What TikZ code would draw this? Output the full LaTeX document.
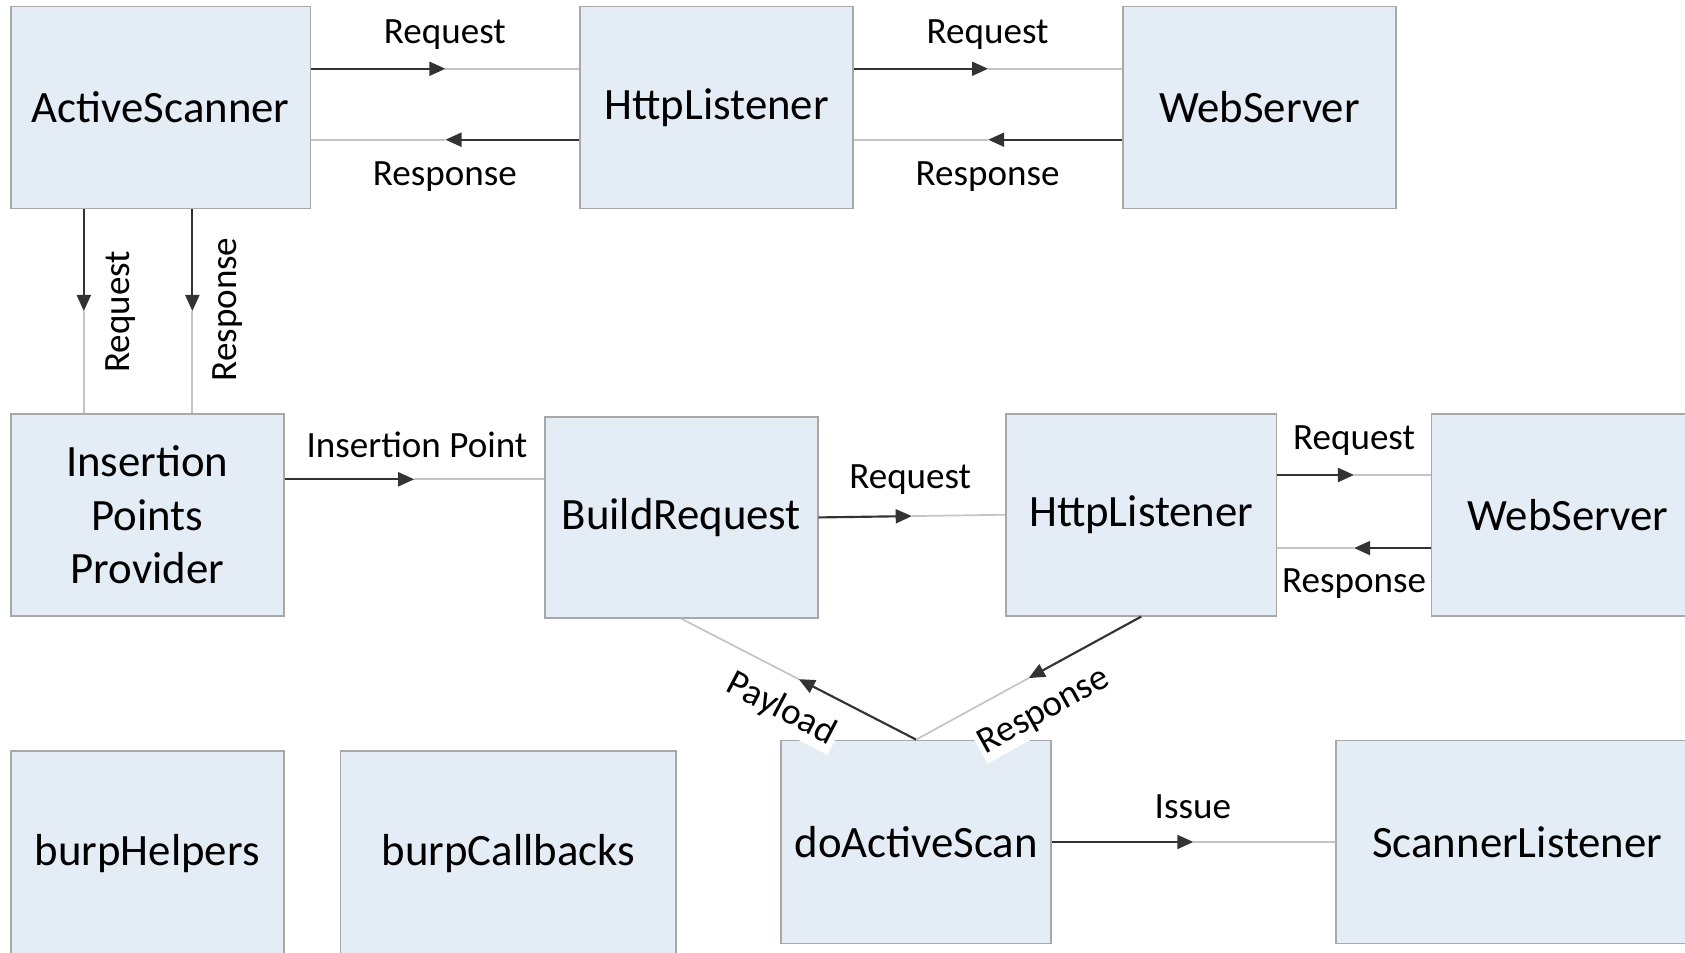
\documentclass[tikz,border=0pt]{standalone}
\usepackage{fontspec}
\setmainfont{Carlito}
\usetikzlibrary{arrows.meta}
\definecolor{boxfill}{HTML}{E4ECF6}
\definecolor{boxline}{HTML}{A8A8A8}
\definecolor{darkln}{HTML}{333333}
\definecolor{liteln}{HTML}{C4C4C4}
\tikzset{
  blk/.style={draw=boxline, fill=boxfill, line width=1.5pt, inner sep=0pt,
    font=\fontsize{41.7}{50}\selectfont, align=center},
  lbl/.style={font=\fontsize{34.5}{40}\selectfont, inner sep=1pt},
  darkpart/.style={draw=darkln, line width=2pt, -{Triangle[length=15pt,width=13pt]}},
  litepart/.style={draw=liteln, line width=1.6pt},
}
\newcommand\conn[2]{%
  \path #1 -- coordinate[pos=0.5] (cmid) #2;
  \draw[litepart] (cmid) -- #2;
  \draw[darkpart] #1 -- (cmid);
}
\begin{document}
\begin{tikzpicture}[x=1pt,y=-1pt]
\useasboundingbox (0,0) rectangle (1568,886);
% boxes
\node[blk, minimum width=279pt, minimum height=188pt] (as) at (149.5,100) {ActiveScanner};
\node[blk, minimum width=254pt, minimum height=188pt] (hl1) at (667,100) {HttpListener};
\node[blk, minimum width=254pt, minimum height=188pt] (ws1) at (1172,100) {WebServer};
\node[blk, minimum width=254pt, minimum height=188pt] (ipp) at (137,479) {Insertion\\Points\\Provider};
\node[blk, minimum width=254pt, minimum height=187pt] (br) at (634,481.5) {BuildRequest};
\node[blk, minimum width=252pt, minimum height=188pt] (hl2) at (1062,479) {HttpListener};
\node[blk, minimum width=254pt, minimum height=188pt] (ws2) at (1459,479) {WebServer};
\node[blk, minimum width=254pt, minimum height=190pt] (bh) at (137,794) {burpHelpers};
\node[blk, minimum width=312pt, minimum height=190pt] (bc) at (473,794) {burpCallbacks};
\node[blk, minimum width=251pt, minimum height=189pt] (das) at (852.5,783.5) {doActiveScan};
\node[blk, minimum width=338pt, minimum height=189pt] (sl) at (1412,783.5) {ScannerListener};
% connectors
\conn{([yshift=36pt]as.east)}{([yshift=36pt]hl1.west)}
\conn{([yshift=-30pt]hl1.west)}{([yshift=-30pt]as.east)}
\conn{([yshift=36pt]hl1.east)}{([yshift=36pt]ws1.west)}
\conn{([yshift=-30pt]ws1.west)}{([yshift=-30pt]hl1.east)}
\conn{([xshift=-71.5pt]as.south)}{([xshift=-71.5pt]as.south |- ipp.north)}
\conn{([xshift=29.5pt]as.south)}{([xshift=29.5pt]as.south |- ipp.north)}
\conn{([yshift=33pt]ipp.east)}{([yshift=33pt]ipp.east -| br.west)}
\conn{(br.east)}{(hl2.west)}
\conn{([yshift=37pt]hl2.east)}{([yshift=37pt]hl2.east -| ws2.west)}
\conn{([yshift=-31pt]ws2.west)}{([yshift=-31pt]ws2.west -| hl2.east)}
\conn{(das.north)}{(br.south)}
\conn{(hl2.south)}{(das.north)}
\conn{(das.east)}{(sl.west)}
% labels
\node[lbl] (l1) at (414,32) {Request};
\node[lbl] (l2) at (414,164) {Response};
\node[lbl] (l3) at (919,32) {Request};
\node[lbl] (l4) at (919,164) {Response};
\node[lbl, rotate=90] (l5) at (112,290) {Request};
\node[lbl, rotate=90] (l6) at (212,288) {Response};
\node[lbl] (l7) at (388,414) {Insertion Point};
\node[lbl] (l8) at (847,446) {Request};
\node[lbl] (l9) at (1260,410) {Request};
\node[lbl] (l10) at (1260,543) {Response};
\node[lbl, rotate=-27.6, fill=white, inner sep=3pt] (l11) at (727,660) {Payload};
\node[lbl, rotate=29, fill=white, inner sep=3pt] (l12) at (972,662) {Response};
\node[lbl] (l13) at (1110,751) {Issue};
\end{tikzpicture}
\end{document}
